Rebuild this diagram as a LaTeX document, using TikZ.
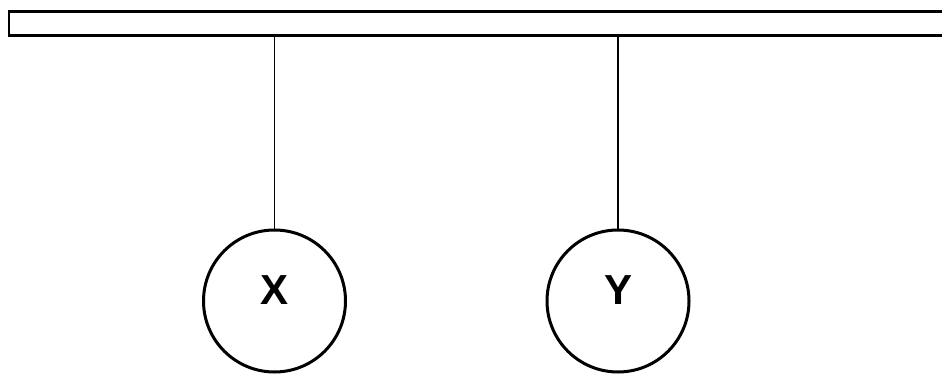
\documentclass[tikz,border=0pt]{standalone}
\usepackage{fontspec}
\setmainfont{Liberation Sans}
\begin{document}
\begin{tikzpicture}[x=1pt,y=-1pt,
  bus/.style={draw=black,line width=2.2pt,fill=white},
  proc/.style={circle,draw=black,line width=3pt,minimum size=142pt,inner sep=0pt},
  lbl/.style={font=\fontsize{42}{42}\selectfont\bfseries},
  conn/.style={draw=black,line width=1.4pt}]
\useasboundingbox (0,0) rectangle (942,374);
\node[bus,minimum width=950pt,minimum height=24pt,anchor=north west,inner sep=0pt] (bar) at (8,10.5) {};
\node[proc] (x) at (274.5,301) {};
\node[proc] (y) at (618,301) {};
\node[lbl] (xl) at (274.5,290.5) {X};
\node[lbl] (yl) at (618,290.5) {Y};
\draw[conn] (x.north) -- (x.north |- bar.south);
\draw[conn] (y.north) -- (y.north |- bar.south);
\end{tikzpicture}
\end{document}
